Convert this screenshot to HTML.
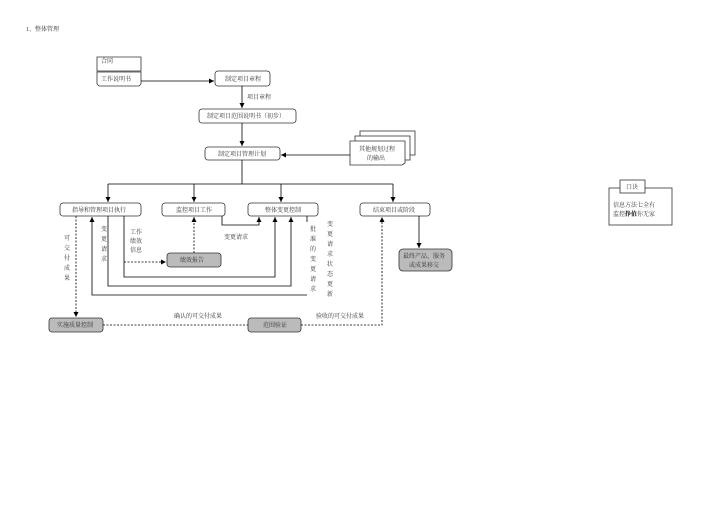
<!DOCTYPE html>
<html><head><meta charset="utf-8"><style>
html,body{margin:0;padding:0;background:#fff;}
svg text{font-family:"Liberation Serif","Noto Serif CJK SC",serif;font-size:6px;fill:#333;}
</style></head><body>
<svg width="711" height="503" viewBox="0 0 711 503" xmlns="http://www.w3.org/2000/svg">
<defs>
<marker id="a" markerWidth="6" markerHeight="6" refX="5" refY="3" orient="auto" markerUnits="userSpaceOnUse"><path d="M0,0.5 L5,3 L0,5.5 z" fill="#000"/></marker>
</defs>
<text x="26" y="31">1、整体管理</text>
<g fill="#fff" stroke="#333" stroke-width="0.8">
<!-- doc -->
<path d="M97,57 H141 V71 H97 Z"/>
<path d="M97,72 H141 V84 L139,86 H99 L97,84 Z"/>
<rect x="215" y="71" width="55" height="15" rx="3"/>
<rect x="199" y="109" width="97" height="14" rx="3"/>
<rect x="205" y="147" width="75" height="13" rx="3"/>
<rect x="360" y="131" width="55" height="24"/>
<rect x="355" y="136" width="55" height="24"/>
<path d="M350,141 H405 V163 L402,165 H350 Z"/>
<rect x="60" y="203" width="81" height="13" rx="3"/>
<rect x="162" y="203" width="63" height="13" rx="3"/>
<rect x="248" y="203" width="70" height="13" rx="3"/>
<rect x="360" y="203" width="70" height="13" rx="3"/>
<rect x="167" y="253" width="54" height="14" rx="3" fill="#bbb"/>
<rect x="399" y="249" width="53" height="22" rx="4" fill="#bbb"/>
<rect x="49" y="318" width="54" height="14" rx="3" fill="#bbb"/>
<rect x="248" y="318" width="53" height="14" rx="3" fill="#bbb"/>
<rect x="609" y="188" width="63" height="37"/>
<rect x="620" y="180" width="25" height="13"/>
</g>
<g fill="none" stroke="#000" stroke-width="0.8">
<path d="M141,81 H214" marker-end="url(#a)"/>
<path d="M242,86 V108" marker-end="url(#a)"/>
<path d="M242,123 V146" marker-end="url(#a)"/>
<path d="M350,155 H281" marker-end="url(#a)"/>
<path d="M242,160 V184 M108,184 H393"/>
<path d="M108,184 V202" marker-end="url(#a)"/>
<path d="M194,184 V202" marker-end="url(#a)"/>
<path d="M281,184 V202" marker-end="url(#a)"/>
<path d="M393,184 V202" marker-end="url(#a)"/>
<path d="M124,216 V277 H275 V217" marker-end="url(#a)"/>
<path d="M108,216 V286 H291 V217" marker-end="url(#a)"/>
<path d="M307,216 V222 M307,295 H92 V217" marker-end="url(#a)"/>
<path d="M222,216 V225 H259 V217" marker-end="url(#a)"/>
<path d="M419,216 V248" marker-end="url(#a)"/>
</g>
<g fill="none" stroke="#000" stroke-width="0.8" stroke-dasharray="2,1.5">
<path d="M76,216 V317" marker-end="url(#a)"/>
<path d="M124,262 H166" marker-end="url(#a)"/>
<path d="M194,253 V217" marker-end="url(#a)"/>
<path d="M103,325 H248 M301,325 H382 V217" marker-end="url(#a)"/>
</g>
<text x="101" y="63">合同</text>
<text x="101" y="81">工作说明书</text>
<text x="225" y="81">制定项目章程</text>
<text x="247" y="99">项目章程</text>
<text x="207" y="118">制定项目范围说明书（初步）</text>
<text x="218" y="156">制定项目管理计划</text>
<text x="359" y="151">其他规划过程</text>
<text x="367" y="160">的输出</text>
<text x="72" y="212">指导和管理项目执行</text>
<text x="176" y="212">监控项目工作</text>
<text x="265" y="212">整体变更控制</text>
<text x="373" y="212">结束项目或阶段</text>
<text x="180" y="262">绩效报告</text>
<text x="403" y="258">最终产品、服务</text>
<text x="409" y="267">或成果移交</text>
<text x="57" y="327">实施质量控制</text>
<text x="263" y="327">范围验证</text>
<text x="174" y="318">确认的可交付成果</text>
<text x="316" y="318">验收的可交付成果</text>
<text x="224" y="239">变更请求</text>
<text x="130" y="234">工作</text>
<text x="130" y="243">绩效</text>
<text x="130" y="252">信息</text>
<g text-anchor="middle">
<text x="67" y="240">可</text><text x="67" y="250">交</text><text x="67" y="260">付</text><text x="67" y="270">成</text><text x="67" y="280">果</text>
<text x="104" y="231">变</text><text x="104" y="241">更</text><text x="104" y="251">请</text><text x="104" y="261">求</text>
<text x="313" y="231">批</text><text x="313" y="241">准</text><text x="313" y="251">的</text><text x="313" y="261">变</text><text x="313" y="271">更</text><text x="313" y="281">请</text><text x="313" y="291">求</text>
<text x="330" y="226">变</text><text x="330" y="236">更</text><text x="330" y="246">请</text><text x="330" y="256">求</text><text x="330" y="266">状</text><text x="330" y="276">态</text><text x="330" y="286">更</text><text x="330" y="296">新</text>
</g>
<text x="626" y="189">口诀</text>
<text x="613" y="207">信息方法七全有</text>
<text x="613" y="216">监控<tspan font-weight="bold" fill="#000">挣值</tspan>你无家</text>
</svg>
</body></html>
